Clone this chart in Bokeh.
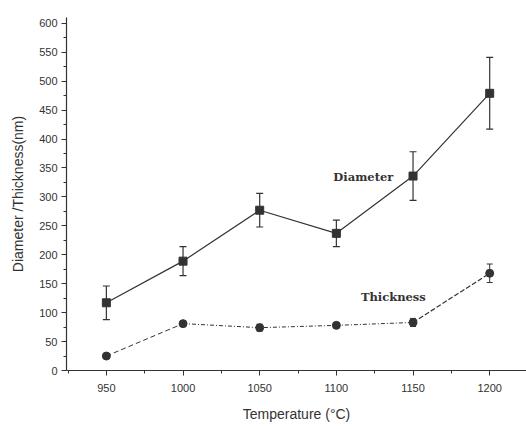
from bokeh.plotting import figure
from bokeh.models import ColumnDataSource, Whisker, TeeHead, Range1d, FixedTicker, Label
from bokeh.embed import file_html
from bokeh.resources import INLINE

# Synthesis temperature (°C)
temperature = [950, 1000, 1050, 1100, 1150, 1200]

# Mean diameter and its spread (nm)
diameter = [117, 189, 277, 237, 336, 479]
diameter_err = [29, 25, 29, 23, 42, 62]

# Mean thickness and its spread (nm)
thickness = [25, 81, 74, 78, 83, 168]
thickness_err = [2, 4, 6, 4, 7, 16]

x_ticks = [950, 1000, 1050, 1100, 1150, 1200]
y_ticks = list(range(0, 601, 50))

INK = "#333333"

p = figure(width=526, height=429, output_backend="svg", toolbar_location=None,
           x_range=Range1d(924, 1224), y_range=Range1d(0, 610),
           min_border_left=66, min_border_right=0, min_border_top=17, min_border_bottom=59)
p.outline_line_color = None
p.grid.visible = False
p.background_fill_color = "white"

# Diameter series: solid line, square markers
d_src = ColumnDataSource(dict(
    x=temperature, y=diameter,
    lo=[v - e for v, e in zip(diameter, diameter_err)],
    hi=[v + e for v, e in zip(diameter, diameter_err)]))
p.line("x", "y", source=d_src, line_color=INK, line_width=1.2)
p.add_layout(Whisker(source=d_src, base="x", lower="lo", upper="hi", line_color=INK, line_width=1.2,
                     upper_head=TeeHead(size=7, line_color=INK, line_width=1.2),
                     lower_head=TeeHead(size=7, line_color=INK, line_width=1.2)))
p.scatter("x", "y", source=d_src, marker="square", size=8, fill_color=INK, line_color=INK)

# Thickness series: dashed end segments, dotted middle run, round markers
t_src = ColumnDataSource(dict(
    x=temperature, y=thickness,
    lo=[v - e for v, e in zip(thickness, thickness_err)],
    hi=[v + e for v, e in zip(thickness, thickness_err)]))
p.line(temperature[0:2], thickness[0:2], line_color=INK, line_width=1, line_dash="5 3")
p.line(temperature[1:5], thickness[1:5], line_color=INK, line_width=1, line_dash="4 2 1 2")
p.line(temperature[4:6], thickness[4:6], line_color=INK, line_width=1.2, line_dash="5 2")
p.add_layout(Whisker(source=t_src, base="x", lower="lo", upper="hi", line_color=INK, line_width=1,
                     upper_head=TeeHead(size=6, line_color=INK, line_width=1),
                     lower_head=TeeHead(size=6, line_color=INK, line_width=1)))
p.scatter("x", "y", source=t_src, marker="circle", size=8, fill_color=INK, line_color=INK)

# Series labels
p.add_layout(Label(x=1100, y=335, text="Diameter", x_offset=-3, text_font="DejaVu Serif",
                   text_font_style="bold", text_font_size="11.5px", text_color=INK,
                   text_baseline="middle", text_align="left"))
p.add_layout(Label(x=1116, y=127, text="Thickness", text_font="DejaVu Serif",
                   text_font_style="bold", text_font_size="11.5px", text_color=INK,
                   text_baseline="middle", text_align="left"))

for ax in (p.xaxis[0], p.yaxis[0]):
    ax.axis_line_color = INK
    ax.axis_line_width = 1.2
    ax.major_tick_line_color = INK
    ax.minor_tick_line_color = INK
    ax.major_tick_in = 0
    ax.major_tick_out = 5
    ax.minor_tick_in = 0
    ax.minor_tick_out = 3
    ax.major_label_text_font = "Liberation Sans"
    ax.major_label_text_font_size = "11px"
    ax.major_label_text_color = INK
    ax.axis_label_text_font = "Liberation Sans"
    ax.axis_label_text_font_size = "14px"
    ax.axis_label_text_font_style = "normal"
    ax.axis_label_text_color = INK

p.xaxis.ticker = FixedTicker(ticks=x_ticks, minor_ticks=[925 + 50 * i for i in range(6)])
p.yaxis.ticker = FixedTicker(ticks=y_ticks, minor_ticks=[25 + 50 * i for i in range(12)])
p.xaxis.axis_label = "Temperature (°C)"
p.yaxis.axis_label = "Diameter /Thickness(nm)"
p.xaxis.major_label_standoff = 8
p.xaxis.axis_label_standoff = 11
p.yaxis.major_label_standoff = 4
p.yaxis.axis_label_standoff = 10

open("out.html", "w").write(file_html(p, INLINE))
